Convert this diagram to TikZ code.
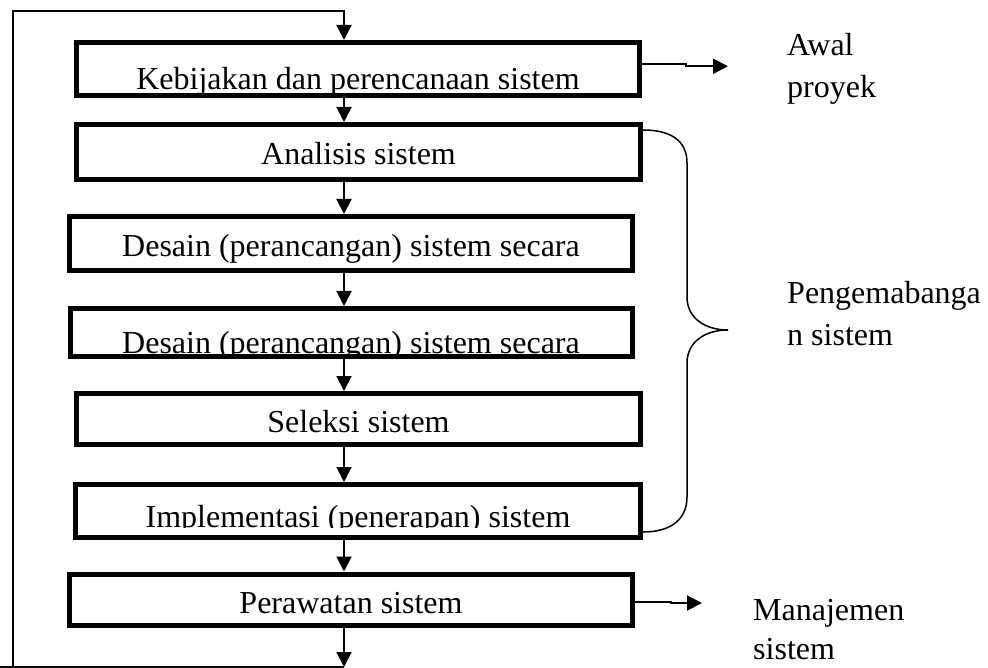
\documentclass[tikz,border=0pt]{standalone}
\usepackage{fontspec}
\setmainfont{Liberation Serif}
\usepackage{trimclip}
\usetikzlibrary{arrows.meta}
\newcommand{\cutbase}[1]{\clipbox{0pt {\depth} 0pt 0pt}{#1}}
\begin{document}
\begin{tikzpicture}[x=1pt,y=-1pt,
    font=\fontsize{32}{42}\selectfont,
    stagebox/.style={draw,line width=5pt,inner sep=0pt,minimum width=563pt,text depth=0pt},
    flow/.style={line width=2pt,-{Triangle[length=15pt,width=15pt]}},
    sidetext/.style={align=left,inner sep=0pt,anchor=north west}]
            \useasboundingbox (0,0) rectangle (988,668);
            \node[stagebox,minimum height=53.5pt,text height=41.5pt] (k) at (358,69.25) {Kebijakan dan perencanaan sistem};
            \node[stagebox,minimum width=564pt,minimum height=55pt,text height=26pt] (a) at (358.5,152) {Analisis sistem};
            \node[stagebox,minimum height=54pt,text height=27pt] (d1) at (351,243.5) {Desain (perancangan) sistem secara};
            \node[stagebox,minimum width=562pt,minimum height=48pt,text height=41pt] (d2) at (351,332.5) {\cutbase{Desain (perancangan) sistem secara}};
            \node[stagebox,minimum width=564pt,minimum height=51pt,text height=26pt] (s) at (358.5,419) {Seleksi sistem};
            \node[stagebox,minimum width=565pt,minimum height=53pt,text height=32pt] (i) at (358,511) {\cutbase{Implementasi (penerapan) sistem}};
            \node[stagebox,minimum height=51pt,text height=27pt] (p) at (351,599.5) {Perawatan sistem};

            \coordinate (ax) at (344,0);
            \coordinate (loopbot) at (13,667);
            \coordinate (looptop) at (344,11);
            \coordinate (exit) at (344,667);

            \draw[flow] (k.south -| ax)--(a.north -| ax);
            \draw[flow] (a.south -| ax)--(d1.north -| ax);
            \draw[flow] (d1.south -| ax)--(d2.north -| ax);
            \draw[flow] (d2.south -| ax)--(s.north -| ax);
            \draw[flow] (s.south -| ax)--(i.north -| ax);
            \draw[flow] (i.south -| ax)--(p.north -| ax);
            \draw[flow] (p.south -| ax)--(exit);

            % feedback loop
            \draw[line width=2pt] (exit)--(0,667);
            \draw[flow] (loopbot) |- (looptop)--(k.north -| looptop);

            % side outputs
            \draw[flow] ([yshift=5pt]k.east)--++(44,0)--++(0,2)--++(42,0);
            \draw[flow] ([yshift=-2.5pt]p.east)--++(36,0)--++(0,1)--++(31,0);
            \node[sidetext] (awal) at (787,33) {Awal\\proyek};
            \node[sidetext] (manaj) at (753,599) {Manajemen\\[-3pt]sistem};

            \draw[line width=1.5pt] (643,130) .. controls (670,130) and (687,140) .. (687,163)--(687,297)
                .. controls (687,318) and (705,330) .. (728,330)
                .. controls (705,330) and (687,342) .. (687,363)--(687,497)
                .. controls (687,520) and (670,532) .. (643,532);
            \node[sidetext] (kembang) at (787,281) {Pengemabanga\\n sistem};
        \end{tikzpicture}
\end{document}
